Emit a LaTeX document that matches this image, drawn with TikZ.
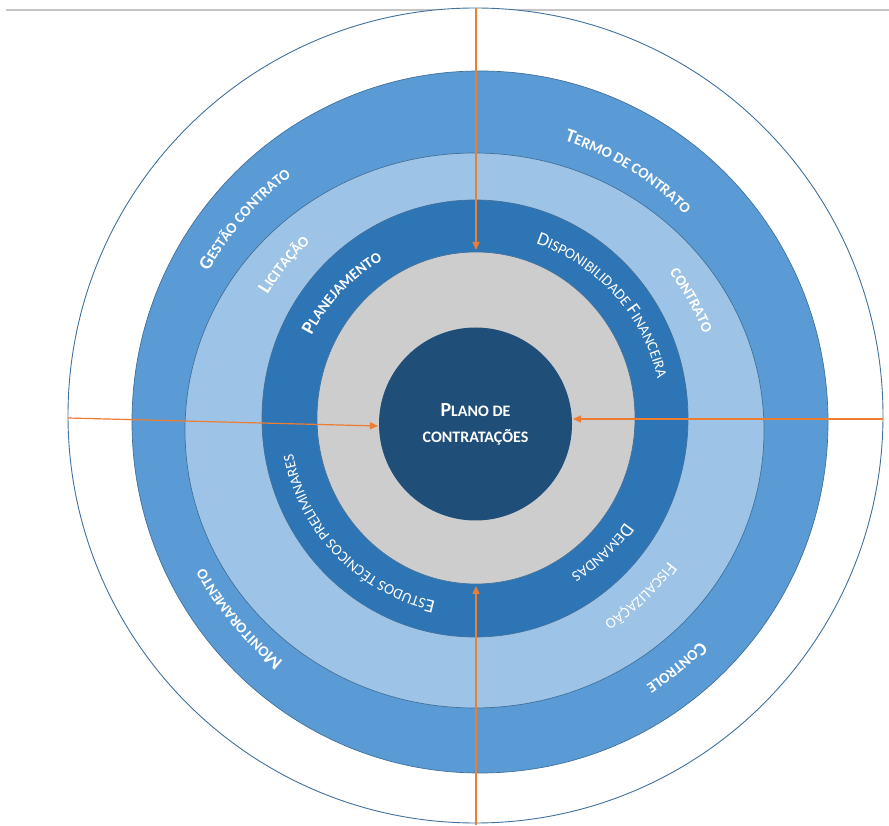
\documentclass[tikz,border=0pt]{standalone}
\usepackage{fontspec}
\setmainfont{Carlito}
\usetikzlibrary{decorations.text,arrows.meta}
\definecolor{ringA}{HTML}{5B9BD5}
\definecolor{ringB}{HTML}{9DC3E6}
\definecolor{ringC}{HTML}{2E75B6}
\definecolor{ringD}{HTML}{CDCDCD}
\definecolor{coreblue}{HTML}{1F4E79}
\definecolor{edgeblue}{HTML}{41719C}
\definecolor{arroworange}{HTML}{ED7D31}
\definecolor{topline}{HTML}{C4C4C4}
\newcommand\LgF{\fontsize{19}{19}\selectfont}
\newcommand\SmF{\fontsize{15}{15}\selectfont}
\newcommand\CLgF{\fontsize{20}{20}\selectfont}
\newcommand\CSmF{\fontsize{16}{16}\selectfont}
\begin{document}
\begin{tikzpicture}[x=1pt,y=1pt,
  ringedge/.style={draw=edgeblue, line width=0.7pt},
  arctext/.style={decorate, decoration={text along path, text align=center, text color=white, text={#1}}},
  link/.style={draw=arroworange, line width=1.2pt, -{Triangle[length=8pt,width=7pt]}}]
\useasboundingbox (0,0) rectangle (889,825);
% top rule
\draw[topline, line width=1.6pt] (6,815) -- (889,815);
% rings
\filldraw[fill=white, draw=edgeblue, line width=0.9pt] (475.5,409.5) circle[radius=407.5pt];
\filldraw[ringedge, fill=ringA] (480,403) ellipse[x radius=348pt, y radius=351pt];
\filldraw[ringedge, fill=ringB] (474.5,394.5) ellipse[x radius=289.5pt, y radius=277.5pt];
\filldraw[ringedge, fill=ringC] (475,406.5) ellipse[x radius=213pt, y radius=218.5pt];
\filldraw[ringedge, fill=ringD] (476,407) ellipse[x radius=159pt, y radius=166pt];
% core
\node[circle, fill=coreblue, minimum size=193pt, inner sep=0pt, text=white, align=center, font=\bfseries\CSmF] (core) at (475.5,401)
  {{\CLgF P}LANO DE\\[10pt]CONTRATAÇÕES};
% connector end points
\coordinate (topstart) at (476,817);
\coordinate (topend) at (476,575);
\coordinate (leftstart) at (68,407);
\coordinate (leftend) at (378,399);
\coordinate (rightstart) at (883,406);
\coordinate (rightend) at (573,406);
\coordinate (botstart) at (476,0);
\coordinate (botend) at (476,239);
\draw[link] (topstart) -- (topend);
\draw[link] (leftstart) -- (leftend);
\draw[link] (rightstart) -- (rightend);
\draw[link] (botstart) -- (botend);
% ring texts
\path[arctext={|\bfseries\LgF|G|\bfseries\SmF|ESTÃO CONTRATO}] ([shift={(476,405)}]175:306pt) arc[start angle=175, end angle=103, radius=306pt];
\path[arctext={|\bfseries\LgF|T|\bfseries\SmF|ERMO DE CONTRATO}] ([shift={(476,405)}]94.5:293pt) arc[start angle=94.5, end angle=22.5, radius=293pt];
\path[arctext={|\bfseries\LgF|L|\bfseries\SmF|ICITAÇÃO}] ([shift={(476,405)}]170:243pt) arc[start angle=170, end angle=112, radius=243pt];
\path[arctext={|\bfseries\SmF|CONTRATO}] ([shift={(476,405)}]58:243pt) arc[start angle=58, end angle=0, radius=243pt];
\path[arctext={|\bfseries\LgF|P|\bfseries\SmF|LANEJAMENTO}] ([shift={(476,405)}]170:185pt) arc[start angle=170, end angle=103, radius=185pt];
\path[arctext={|\LgF|D|\SmF|ISPONIBILIDADE |\LgF|F|\SmF|INANCEIRA}] ([shift={(476,405)}]100:186pt) arc[start angle=100, end angle=-16, radius=186pt];
\path[arctext={|\LgF|E|\SmF|STUDOS TÉCNICOS PRELIMINARES}] ([shift={(476,405)}]290:186pt) arc[start angle=290, end angle=158, radius=186pt];
\path[arctext={|\LgF|D|\SmF|EMANDAS}] ([shift={(476,405)}]-10:181pt) arc[start angle=-10, end angle=-83, radius=181pt];
\path[arctext={|\LgF|F|\SmF|ISCALIZAÇÃO}] ([shift={(476,405)}]-10:239pt) arc[start angle=-10, end angle=-84, radius=239pt];
\path[arctext={|\bfseries\LgF|C|\bfseries\SmF|ONTROLE}] ([shift={(476,405)}]-20:315pt) arc[start angle=-20, end angle=-82, radius=315pt];
\path[arctext={|\bfseries\LgF|M|\bfseries\SmF|ONITORAMENTO}] ([shift={(476,405)}]255:309pt) arc[start angle=255, end angle=185, radius=309pt];
\end{tikzpicture}
\end{document}
